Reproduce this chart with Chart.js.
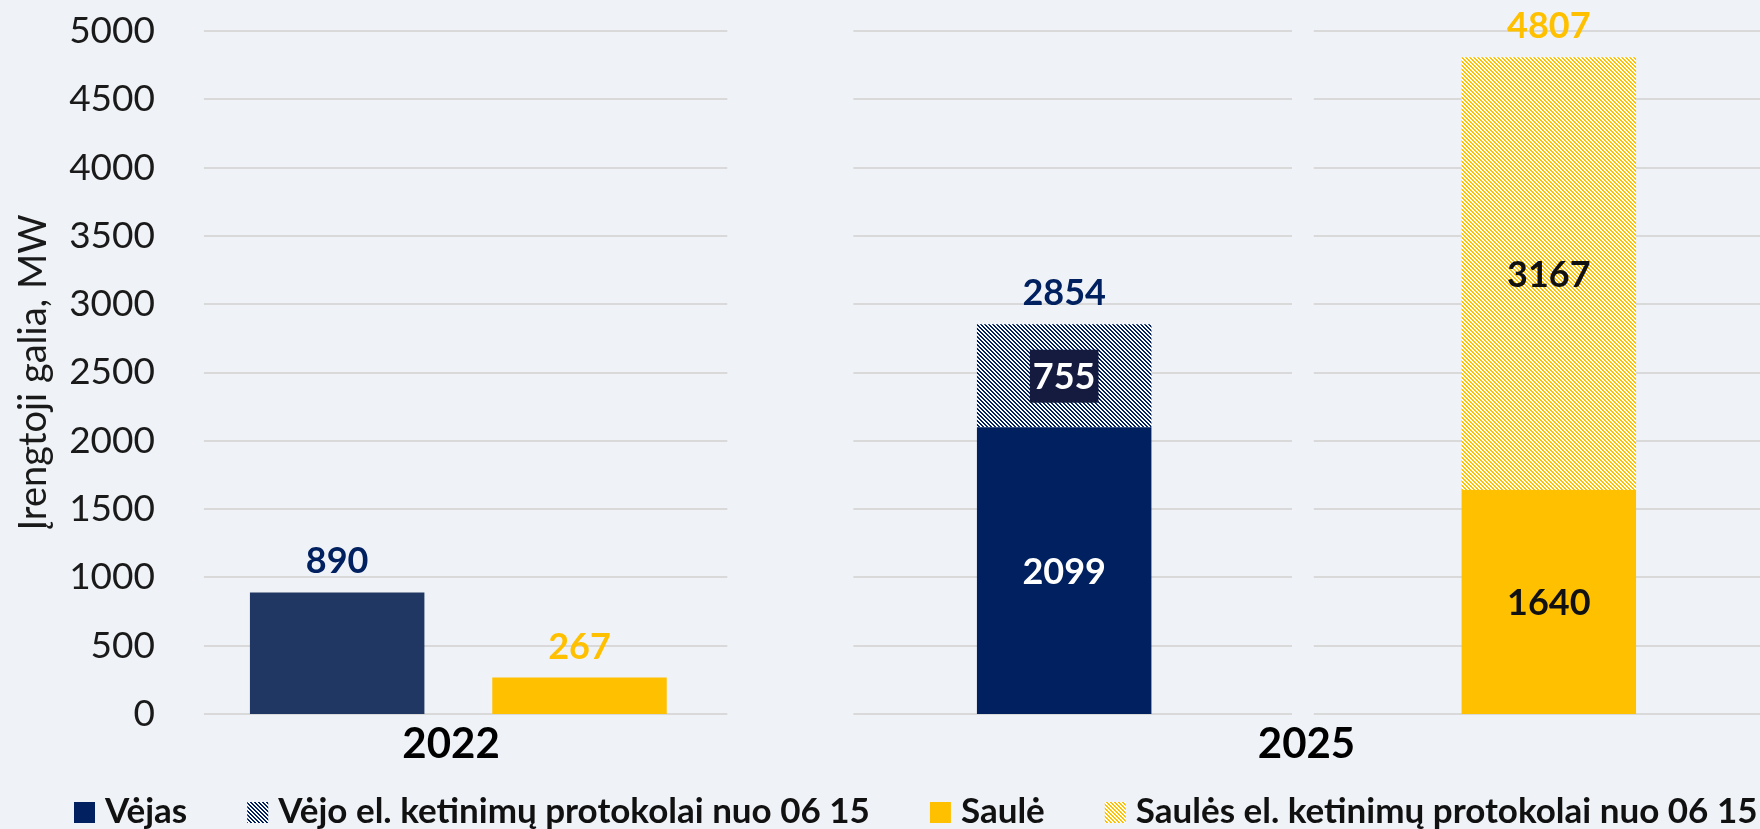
<!DOCTYPE html>
<html lang="lt">
<head>
<meta charset="utf-8">
<title>Įrengtoji galia</title>
<script src="https://cdn.jsdelivr.net/npm/chart.js@4.4.0/dist/chart.umd.min.js"></script>
<style>
  html, body { margin: 0; padding: 0; background: #eff3f7; overflow: hidden; }
  canvas { display: block; }
</style>
</head>
<body>
<canvas id="galiaChart" width="1760" height="829"></canvas>
<script>
// DUOMENYS

// stulpelių vietos ašyje (tuščios vietos - tarpai tarp grupių)
const slots = ['2022 vėjas', '2022 saulė', '', '2025 vėjas', '', '2025 saulė'];
const years = ['2022', '2025'];
const yearSlot = [0.47, 4];

const seriesNames = [
    'Vėjas',
    'Vėjo el. ketinimų protokolai nuo 06 15',
    'Saulė',
    'Saulės el. ketinimų protokolai nuo 06 15'
];
const vejas            = [890, null, null, 2099, null, null];
const vejoProtokolai   = [null, null, null, 755, null, null];
const saule            = [null, 267, null, null, null, 1640];
const saulesProtokolai = [null, null, null, null, null, 3167];

const yMin = 0, yMax = 5000, yStep = 500;

// tinklelio atkarpos (ašies vienetais), kiekvienam paveikslo skydeliui
const gridPanels = [[-0.55, 1.61], [2.13, 3.94], [4.03, 7]];

// SPALVOS IR RAŠTAI

const NAVY = '#002060';
const NAVY_2022 = '#213763';
const GOLD = '#ffc000';

const canvas = document.getElementById('galiaChart');
const ctx = canvas.getContext('2d');

function hatch(color) {
    const tile = document.createElement('canvas');
    tile.width = 4;
    tile.height = 4;
    const g = tile.getContext('2d');
    g.fillStyle = '#ffffff';
    g.fillRect(0, 0, 4, 4);
    g.fillStyle = color;
    for (let y = 0; y < 4; y++) {
        for (let x = 0; x < 4; x++) {
            if (((x - y) % 4 + 4) % 4 < 2) g.fillRect(x, y, 1, 1);
        }
    }
    return ctx.createPattern(tile, 'repeat');
}

const navyHatch = hatch(NAVY);
const goldHatch = hatch(GOLD);

// PLUGINAI

// horizontalios linijos, nutrūkstančios tarp skydelių
const tinklelis = {
    id: 'tinklelis',
    beforeDatasetsDraw(chart) {
        const { ctx, scales: { x, y } } = chart;
        ctx.save();
        ctx.strokeStyle = '#d9d9d9';
        ctx.lineWidth = 2;
        y.ticks.forEach(t => {
            const py = Math.round(y.getPixelForValue(t.value));
            gridPanels.forEach(([a, b]) => {
                ctx.beginPath();
                ctx.moveTo(x.getPixelForValue(a), py);
                ctx.lineTo(Math.min(x.getPixelForValue(b), chart.width), py);
                ctx.stroke();
            });
        });
        ctx.restore();
    }
};

// reikšmės: segmentų viduje ir sumos virš stulpelio
const vertes = {
    id: 'vertes',
    afterDatasetsDraw(chart) {
        const { ctx } = chart;
        const cap = 26;
        ctx.save();
        ctx.font = 'bold 36px Lato';
        ctx.textAlign = 'center';
        ctx.textBaseline = 'alphabetic';
        chart.data.labels.forEach((_, i) => {
            const parts = [];
            chart.data.datasets.forEach((ds, d) => {
                const v = ds.data[i];
                if (v == null) return;
                parts.push({ ds, v, el: chart.getDatasetMeta(d).data[i] });
            });
            if (!parts.length) return;
            if (parts.length > 1) {
                parts.forEach(p => {
                    const cy = (p.el.y + p.el.base) / 2;
                    const txt = String(p.v);
                    if (p.ds.labelBox) {
                        const w = ctx.measureText(txt).width + 6;
                        ctx.fillStyle = p.ds.labelBox;
                        ctx.fillRect(p.el.x - w / 2, cy - 26, w, 53);
                    }
                    ctx.fillStyle = p.ds.labelColor;
                    ctx.fillText(txt, p.el.x, cy + cap / 2);
                });
            }
            const total = parts.reduce((s, p) => s + p.v, 0);
            const top = Math.min(...parts.map(p => p.el.y));
            ctx.fillStyle = parts[0].ds.totalColor;
            ctx.fillText(String(total), parts[0].el.x, top - 19);
        });
        ctx.restore();
    }
};

// metų užrašai ir legenda apačioje
const apacia = {
    id: 'apacia',
    afterDraw(chart) {
        const { ctx, chartArea, scales: { x } } = chart;
        ctx.save();
        ctx.fillStyle = '#000000';
        ctx.font = 'bold 42px Lato';
        ctx.textAlign = 'center';
        ctx.textBaseline = 'alphabetic';
        years.forEach((yr, k) => {
            ctx.fillText(yr, x.getPixelForValue(yearSlot[k]), chartArea.bottom + 44);
        });

        ctx.font = 'bold 35px Lato';
        ctx.textAlign = 'left';
        const base = chartArea.bottom + 109;
        let lx = 74;
        chart.data.datasets.forEach(ds => {
            ctx.fillStyle = ds.legendColor;
            ctx.fillRect(lx, base - 21, 21, 21);
            ctx.fillStyle = '#111111';
            ctx.fillText(ds.label, lx + 31, base);
            lx += 31 + ctx.measureText(ds.label).width + 60;
        });
        ctx.restore();
    }
};

// GRAFIKAS

const galiaChart = new Chart(ctx, {
    type: 'bar',
    data: {
        labels: slots,
        datasets: [
            {
                label: seriesNames[0],
                data: vejas,
                backgroundColor: c => (c.dataIndex === 0 ? NAVY_2022 : NAVY),
                legendColor: NAVY,
                labelColor: '#ffffff',
                totalColor: NAVY
            },
            {
                label: seriesNames[1],
                data: vejoProtokolai,
                backgroundColor: navyHatch,
                legendColor: navyHatch,
                labelColor: '#ffffff',
                labelBox: '#141b3f',
                totalColor: NAVY
            },
            {
                label: seriesNames[2],
                data: saule,
                backgroundColor: GOLD,
                legendColor: GOLD,
                labelColor: '#111111',
                totalColor: GOLD
            },
            {
                label: seriesNames[3],
                data: saulesProtokolai,
                backgroundColor: goldHatch,
                legendColor: goldHatch,
                labelColor: '#111111',
                totalColor: GOLD
            }
        ]
    },
    options: {
        responsive: false,
        devicePixelRatio: 1,
        animation: false,
        barPercentage: 0.72,
        categoryPercentage: 1,
        layout: {
            padding: { top: 31, bottom: 115, left: 0, right: 90 }
        },
        scales: {
            x: {
                stacked: true,
                display: false
            },
            y: {
                stacked: true,
                min: yMin,
                max: yMax,
                // pločio ir vertikalių paraščių nustatymas, kad tarpas iki ašies
                // nedidintų viršutinės paraštės
                afterFit(scale) {
                    scale.width = 216;
                    scale.paddingTop = 0;
                    scale.paddingBottom = 0;
                },
                grid: { display: false },
                border: { display: false },
                ticks: {
                    stepSize: yStep,
                    padding: 53,
                    color: '#1a1a1a',
                    font: { family: 'Lato', size: 37 },
                    callback: v => String(v)
                },
                title: {
                    display: true,
                    text: 'Įrengtoji galia, MW',
                    color: '#1a1a1a',
                    font: { family: 'Lato', size: 38 },
                    padding: { top: 11, bottom: 0 }
                }
            }
        },
        plugins: {
            legend: { display: false },
            tooltip: { enabled: false }
        }
    },
    plugins: [tinklelis, vertes, apacia]
});
</script>
</body>
</html>
